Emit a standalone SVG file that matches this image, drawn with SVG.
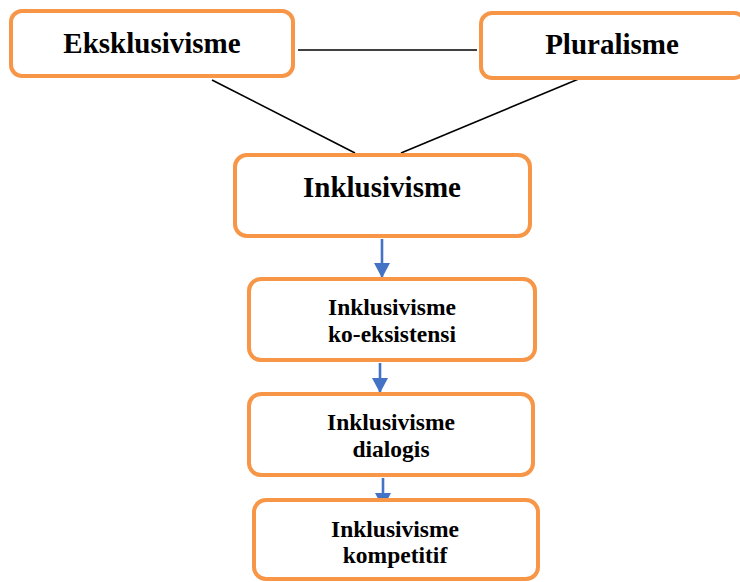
<svg xmlns="http://www.w3.org/2000/svg" width="740" height="582" viewBox="0 0 740 582">
  <style>
    .box { fill: #ffffff; stroke: #F79646; stroke-width: 4; }
    .big { font-family: "Liberation Serif", "Times New Roman", serif; font-weight: bold; font-size: 29px; fill: #000; text-anchor: middle; }
    .small { font-family: "Liberation Serif", "Times New Roman", serif; font-weight: bold; font-size: 23.5px; fill: #000; text-anchor: middle; }
    .link { stroke: #000; stroke-width: 1.6; fill: none; }
    .flow { stroke: #4472C4; stroke-width: 2.6; fill: none; }
  </style>
  <defs>
    <marker id="arrow" markerWidth="18" markerHeight="18" refX="15" refY="8" orient="auto" markerUnits="userSpaceOnUse">
      <path d="M0,0 L15,8 L0,16 Z" fill="#4472C4"/>
    </marker>
  </defs>
  <rect width="740" height="582" fill="#ffffff"/>

  <!-- connectors -->
  <g id="connectors">
    <line class="link" x1="298" y1="50" x2="477" y2="50"/>
    <line class="link" x1="212" y1="80" x2="355" y2="153"/>
    <line class="link" x1="581" y1="78" x2="401" y2="153"/>
    <line class="flow" x1="382" y1="239" x2="382" y2="278" marker-end="url(#arrow)"/>
    <line class="flow" x1="380" y1="363" x2="380" y2="393" marker-end="url(#arrow)"/>
    <line class="flow" x1="383" y1="478" x2="383" y2="508" marker-end="url(#arrow)"/>
  </g>

  <g id="eksklusivisme">
    <rect class="box" x="11" y="11" width="282" height="65" rx="11"/>
    <text class="big" x="152" y="53">Eksklusivisme</text>
  </g>

  <g id="pluralisme">
    <rect class="box" x="481" y="13" width="264" height="65" rx="11"/>
    <text class="big" x="612" y="54">Pluralisme</text>
  </g>

  <g id="inklusivisme">
    <rect class="box" x="235" y="155" width="295" height="81" rx="12"/>
    <text class="big" x="382" y="197">Inklusivisme</text>
  </g>

  <g id="ko-eksistensi">
    <rect class="box" x="249" y="279" width="286" height="81" rx="12"/>
    <text class="small" x="392" y="315">Inklusivisme</text>
    <text class="small" x="392" y="342">ko-eksistensi</text>
  </g>

  <g id="dialogis">
    <rect class="box" x="249" y="394" width="284" height="81" rx="12"/>
    <text class="small" x="391" y="430">Inklusivisme</text>
    <text class="small" x="391" y="457">dialogis</text>
  </g>

  <g id="kompetitif">
    <rect class="box" x="254" y="500" width="284" height="79" rx="12"/>
    <text class="small" x="395" y="537">Inklusivisme</text>
    <text class="small" x="395" y="563">kompetitif</text>
  </g>
</svg>
